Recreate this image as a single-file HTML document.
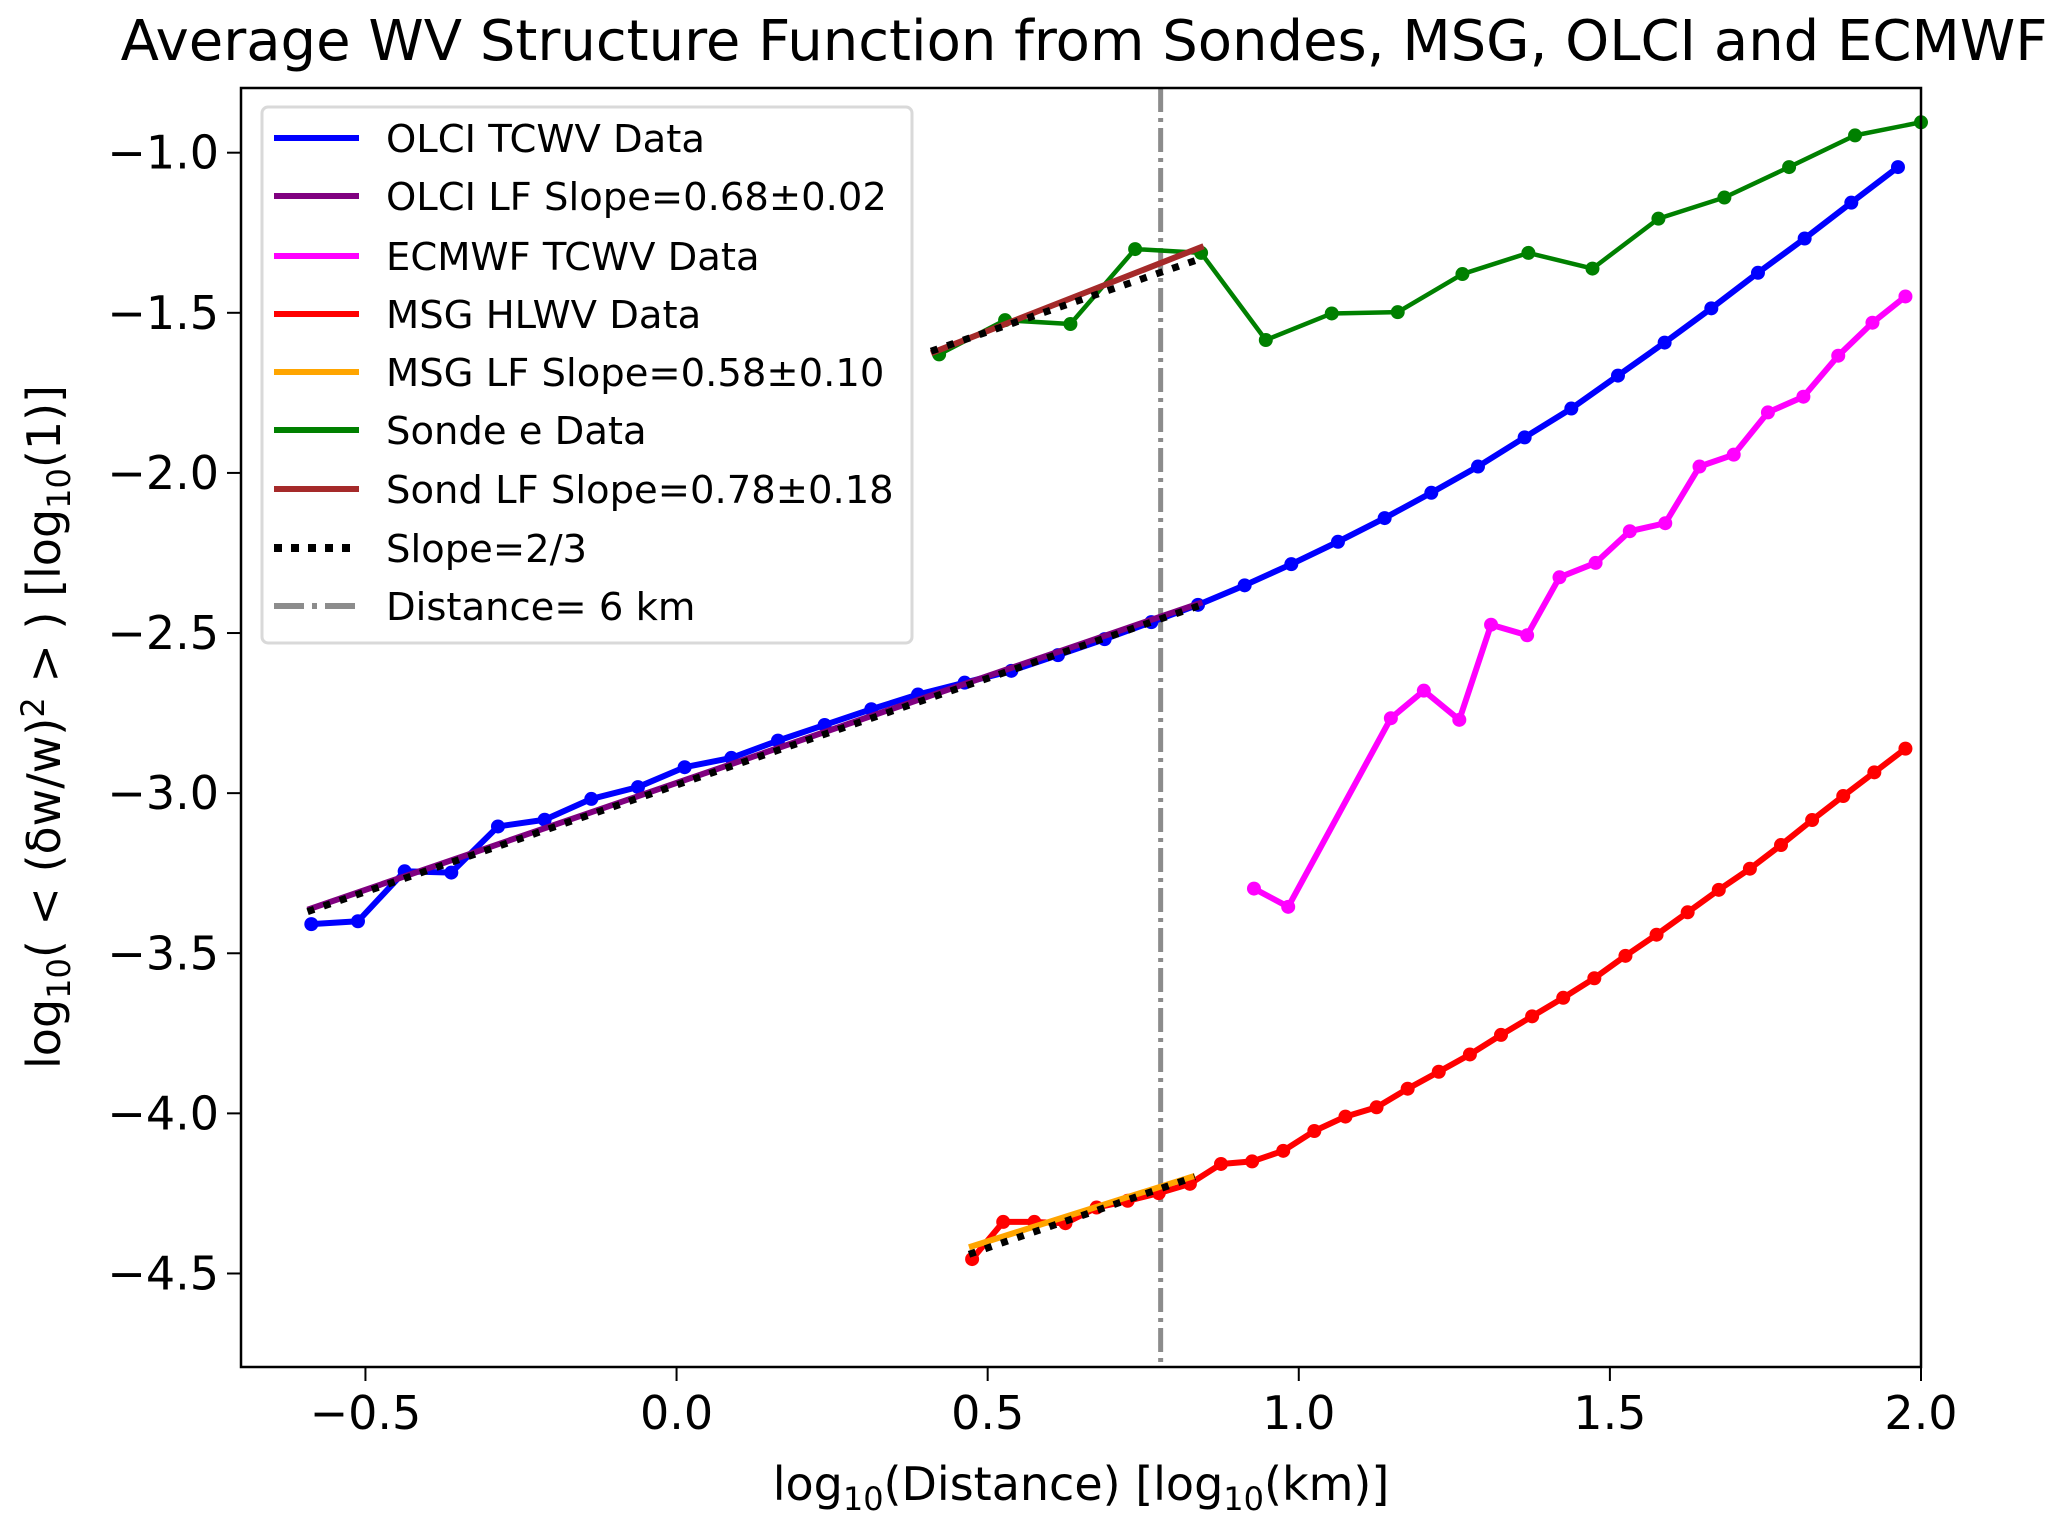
<!DOCTYPE html>
<html><head><meta charset="utf-8"><style>
html,body{margin:0;padding:0;background:#fff}
svg{display:block}
text{font-family:"DejaVu Sans","Liberation Sans",sans-serif;fill:#000}
</style></head><body>
<svg id="chart" width="2067" height="1528" viewBox="0 0 2067 1528" xmlns="http://www.w3.org/2000/svg">
<text x="1084" y="60" font-size="56" text-anchor="middle">Average WV Structure Function from Sondes, MSG, OLCI and ECMWF</text>
<g id="plot"></g>
<text x="1081" y="1500" font-size="46" text-anchor="middle">log<tspan font-size="32" dy="10">10</tspan><tspan dy="-10">(Distance) [log</tspan><tspan font-size="32" dy="10">10</tspan><tspan dy="-10">(km)]</tspan></text>
<text transform="translate(60,727) rotate(-90)" font-size="46" text-anchor="middle">log<tspan font-size="32" dy="10">10</tspan><tspan dy="-10">( &lt; (δw/w)</tspan><tspan font-size="32" dy="-16">2</tspan><tspan dy="16"> &gt; ) [log</tspan><tspan font-size="32" dy="10">10</tspan><tspan dy="-10">(1)]</tspan></text>
</svg>
<script>
const xTicks=[-0.5,0.0,0.5,1.0,1.5,2.0];
const xTickLabels=["−0.5","0.0","0.5","1.0","1.5","2.0"];
const yTicks=[-1.0,-1.5,-2.0,-2.5,-3.0,-3.5,-4.0,-4.5];
const yTickLabels=["−1.0","−1.5","−2.0","−2.5","−3.0","−3.5","−4.0","−4.5"];
const olciX=[-0.587,-0.512,-0.437,-0.362,-0.287,-0.212,-0.137,-0.062,0.013,0.088,0.163,0.238,0.313,0.388,0.463,0.538,0.613,0.688,0.763,0.838,0.913,0.988,1.063,1.138,1.213,1.288,1.363,1.438,1.513,1.588,1.663,1.738,1.813,1.888,1.963];
const olciY=[-3.409,-3.400,-3.244,-3.248,-3.104,-3.083,-3.018,-2.981,-2.919,-2.890,-2.836,-2.787,-2.738,-2.692,-2.655,-2.618,-2.569,-2.519,-2.466,-2.412,-2.351,-2.285,-2.215,-2.141,-2.062,-1.980,-1.889,-1.799,-1.696,-1.593,-1.486,-1.375,-1.268,-1.156,-1.045];
const msgX=[0.475,0.525,0.575,0.625,0.675,0.725,0.775,0.825,0.875,0.925,0.975,1.025,1.075,1.125,1.175,1.225,1.275,1.325,1.375,1.425,1.475,1.525,1.575,1.625,1.675,1.725,1.775,1.825,1.875,1.925,1.975];
const msgY=[-4.455,-4.339,-4.339,-4.343,-4.294,-4.273,-4.249,-4.220,-4.158,-4.150,-4.117,-4.055,-4.010,-3.981,-3.923,-3.870,-3.816,-3.755,-3.697,-3.639,-3.578,-3.508,-3.442,-3.372,-3.302,-3.236,-3.162,-3.084,-3.009,-2.935,-2.861];
const ecmwfX=[0.928,0.983,1.148,1.201,1.258,1.309,1.367,1.419,1.477,1.532,1.589,1.644,1.699,1.754,1.811,1.867,1.922,1.975];
const ecmwfY=[-3.298,-3.355,-2.766,-2.680,-2.771,-2.474,-2.507,-2.326,-2.281,-2.182,-2.157,-1.980,-1.943,-1.811,-1.762,-1.634,-1.531,-1.449];
const sondeX=[0.422,0.528,0.633,0.737,0.843,0.947,1.053,1.159,1.263,1.369,1.472,1.578,1.684,1.788,1.894,2.0];
const sondeY=[-1.630,-1.523,-1.535,-1.301,-1.313,-1.585,-1.502,-1.498,-1.379,-1.313,-1.362,-1.206,-1.140,-1.045,-0.946,-0.905];
const olciFitX=[-0.593,0.845], olciFitY=[-3.364,-2.404];
const sondFitX=[0.409,0.847], sondFitY=[-1.626,-1.292];
const msgFitX=[0.470,0.833], msgFitY=[-4.418,-4.195];
const ref23X=[[-0.593,0.845],[0.409,0.847],[0.470,0.833]];
const ref23Y0=[-3.370,-1.620,-4.440];
const distLine=[0.778];
const legendLabels=["OLCI TCWV Data","OLCI LF Slope=0.68±0.02","ECMWF TCWV Data","MSG HLWV Data","MSG LF Slope=0.58±0.10","Sonde e Data","Sond LF Slope=0.78±0.18","Slope=2/3","Distance= 6 km"];

const L=241,R=1921,T=88,B=1367;
const X0=-0.7,X1=2.0,Y0=-4.792,Y1=-0.798;
const sx=v=>L+(v-X0)/(X1-X0)*(R-L);
const sy=v=>B-(v-Y0)/(Y1-Y0)*(B-T);
const NS="http://www.w3.org/2000/svg";
const g=document.getElementById('plot');
function mk(tag,attrs,parent){const e=document.createElementNS(NS,tag);for(const k in attrs)e.setAttribute(k,attrs[k]);(parent||g).appendChild(e);return e;}
const clipG=mk('g',{});
function poly(xs,ys,color,w,name,dash){
  const e=mk('polyline',{points:xs.map((x,i)=>sx(x)+','+sy(ys[i])).join(' '),fill:'none',stroke:color,'stroke-width':w,'stroke-linejoin':'round'},clipG);
  if(dash)e.setAttribute('stroke-dasharray',dash);
  
  
  return e;
}
function dots(xs,ys,color,name){
  xs.forEach((x,i)=>{const c=mk('circle',{cx:sx(x),cy:sy(ys[i]),r:7,fill:color},clipG);
    
    });
}
const vl=mk('line',{x1:sx(distLine[0]),x2:sx(distLine[0]),y1:T,y2:B,stroke:'#8c8c8c','stroke-width':5,'stroke-dasharray':'24 6 4 6'},clipG);


poly(olciX,olciY,'#0000ff',6,'olci-tcwv-line');dots(olciX,olciY,'#0000ff','olci-point');
poly(ecmwfX,ecmwfY,'#ff00ff',6,'ecmwf-tcwv-line');dots(ecmwfX,ecmwfY,'#ff00ff','ecmwf-point');
poly(msgX,msgY,'#ff0000',6,'msg-hlwv-line');dots(msgX,msgY,'#ff0000','msg-point');
poly(sondeX,sondeY,'#008000',4.5,'sonde-line');dots(sondeX,sondeY,'#008000','sonde-point');
poly(olciFitX,olciFitY,'#800080',6,'olci-fit-line');
poly(sondFitX,sondFitY,'#a52a2a',6,'sonde-fit-line');
poly(msgFitX,msgFitY,'#ffa500',6,'msg-fit-line');
ref23X.forEach((xs,i)=>{poly(xs,[ref23Y0[i],ref23Y0[i]+(xs[1]-xs[0])*2/3],'#000',7,'slope-two-thirds-line','7 10');});
const fr=mk('rect',{x:L,y:T,width:R-L,height:B-T,fill:'none',stroke:'#000','stroke-width':2.5});


xTicks.forEach((v,i)=>{
  const t=mk('line',{x1:sx(v),x2:sx(v),y1:B,y2:B+14,stroke:'#000','stroke-width':2});
  
  
  const tx=mk('text',{x:sx(v),y:B+62,'font-size':46,'text-anchor':'middle'});tx.textContent=xTickLabels[i];
  
  
});
yTicks.forEach((v,i)=>{
  const t=mk('line',{x1:L-14,x2:L,y1:sy(v),y2:sy(v),stroke:'#000','stroke-width':2});
  
  
  const tx=mk('text',{x:L-22,y:sy(v)+16,'font-size':46,'text-anchor':'end'});tx.textContent=yTickLabels[i];
  
  
});
const lg=mk('g',{});


mk('rect',{x:262,y:107,width:650,height:536,rx:6,fill:'#fff','fill-opacity':0.85,stroke:'#d9d9d9','stroke-width':3},lg);
const lgColors=['#0000ff','#800080','#ff00ff','#ff0000','#ffa500','#008000','#a52a2a','#000','#8c8c8c'];
const lgY=[138,196,256,314,372,430,489,548,606];
legendLabels.forEach((lab,i)=>{
  const ln=mk('line',{x1:274,x2:359,y1:lgY[i],y2:lgY[i],stroke:lgColors[i],'stroke-width':i==7?8:6},lg);
  if(i==7)ln.setAttribute('stroke-dasharray','8 9');
  if(i==8)ln.setAttribute('stroke-dasharray','30 8 5 8');
  
  
  const tx=mk('text',{x:386,y:lgY[i]+14,'font-size':38.5},lg);tx.textContent=lab;
  
  
});
</script>
</body></html>
